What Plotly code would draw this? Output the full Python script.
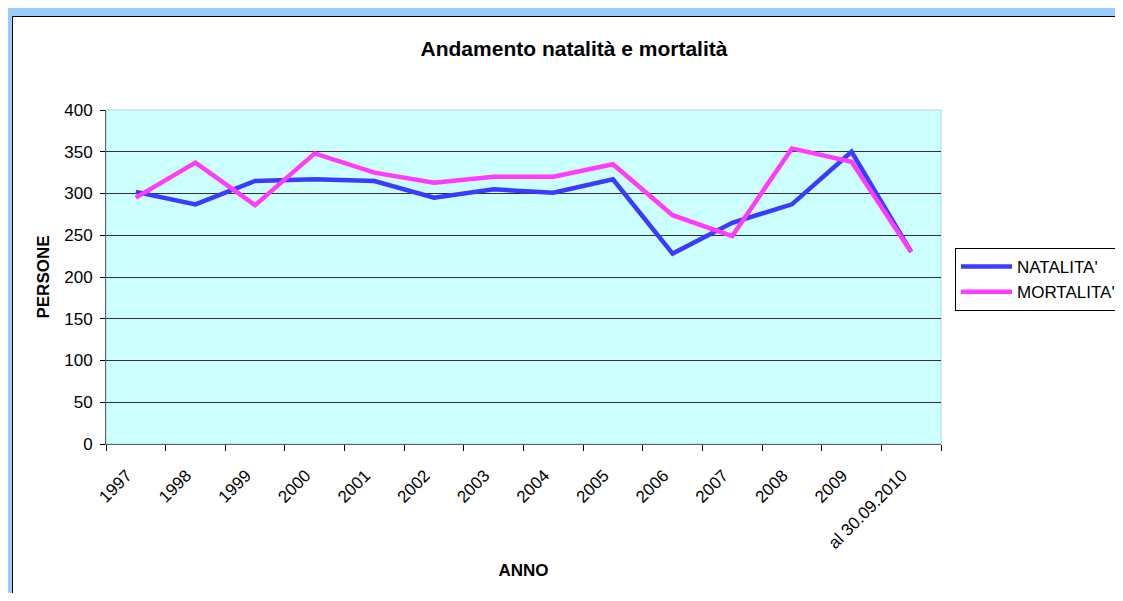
import plotly.graph_objects as go

# categories and values
anni = ['1997', '1998', '1999', '2000', '2001', '2002', '2003', '2004',
        '2005', '2006', '2007', '2008', '2009', 'al 30.09.2010']
natalita = [302, 287, 315, 317, 315, 295, 305, 301, 317, 228, 265, 287, 350, 230]
mortalita = [295, 337, 286, 348, 325, 313, 320, 320, 335, 274, 249, 354, 338, 230]

font_fam = "Arial, Liberation Sans, sans-serif"

fig = go.Figure()
fig.add_trace(go.Scatter(x=anni, y=natalita, mode='lines', name="NATALITA'",
                         line=dict(color='#3B3BFF', width=4.5)))
fig.add_trace(go.Scatter(x=anni, y=mortalita, mode='lines', name="MORTALITA'",
                         line=dict(color='#FF3BFF', width=4.5)))

# page has an 8px body margin, so the figure is a bit smaller than the window
OFF = 8
W, H = 1123 - 2 * OFF, 601 - 2 * OFF
# plot area in page pixels: x 106..941, y 110..444
L, R, T, B = 106, 941, 110, 444
def px_x(p):
    return (p - L) / (R - L)
def px_y(p):
    return (B - p) / (B - T)

shapes = [
    # blue outer frame
    dict(type='rect', xref='paper', yref='paper', layer='below',
         x0=px_x(0), x1=px_x(1140), y0=px_y(620), y1=px_y(3),
         fillcolor='#99CCFF', line=dict(width=0)),
    # white chart area with black edge
    dict(type='rect', xref='paper', yref='paper', layer='below',
         x0=px_x(12.5), x1=px_x(1140), y0=px_y(620), y1=px_y(16.5),
         fillcolor='white', line=dict(color='black', width=1)),
    # plot area background
    dict(type='rect', xref='x domain', yref='y domain', layer='below',
         x0=0, x1=1, y0=0, y1=1,
         fillcolor='#CCFFFF', line=dict(color='#A8D8D8', width=1)),
]

fig.update_layout(
    width=W, height=H,
    margin=dict(l=L - OFF, r=W + OFF - R, t=T - OFF, b=H + OFF - B, autoexpand=False),
    paper_bgcolor='white',
    plot_bgcolor='#CCFFFF',
    font=dict(family=font_fam, size=17, color='black'),
    title=dict(text='<b>Andamento natalità e mortalità</b>',
               x=(574 - OFF) / W, xanchor='center',
               y=1 - (49 - OFF) / H, yanchor='middle',
               font=dict(size=21)),
    shapes=shapes,
    showlegend=True,
    legend=dict(x=px_x(955), y=px_y(248), xanchor='left', yanchor='top',
                bordercolor='black', borderwidth=1, bgcolor='white',
                font=dict(size=17), tracegroupgap=0, itemwidth=51),
)

fig.update_xaxes(
    type='category', tickangle=-45, tickson='boundaries',
    ticks='outside', ticklen=6, tickcolor='black',
    ticklabelstandoff=14, ticklabelshift=-9,
    showline=True, linecolor='#606060', linewidth=1,
    showgrid=False, range=[-0.5, len(anni) - 0.5],
    tickfont=dict(size=17),
    title=dict(text='<b>ANNO</b>', font=dict(size=17), standoff=12),
)
fig.update_yaxes(
    range=[0, 400], dtick=50, ticks='outside', ticklen=5, tickcolor='black',
    ticklabelstandoff=4,
    showline=True, linecolor='#606060', linewidth=1,
    showgrid=True, gridcolor='#303030', gridwidth=1, zeroline=False,
    tickfont=dict(size=17),
    title=dict(text='<b>PERSONE</b>', font=dict(size=17), standoff=10),
)

fig.write_html("out.html")
